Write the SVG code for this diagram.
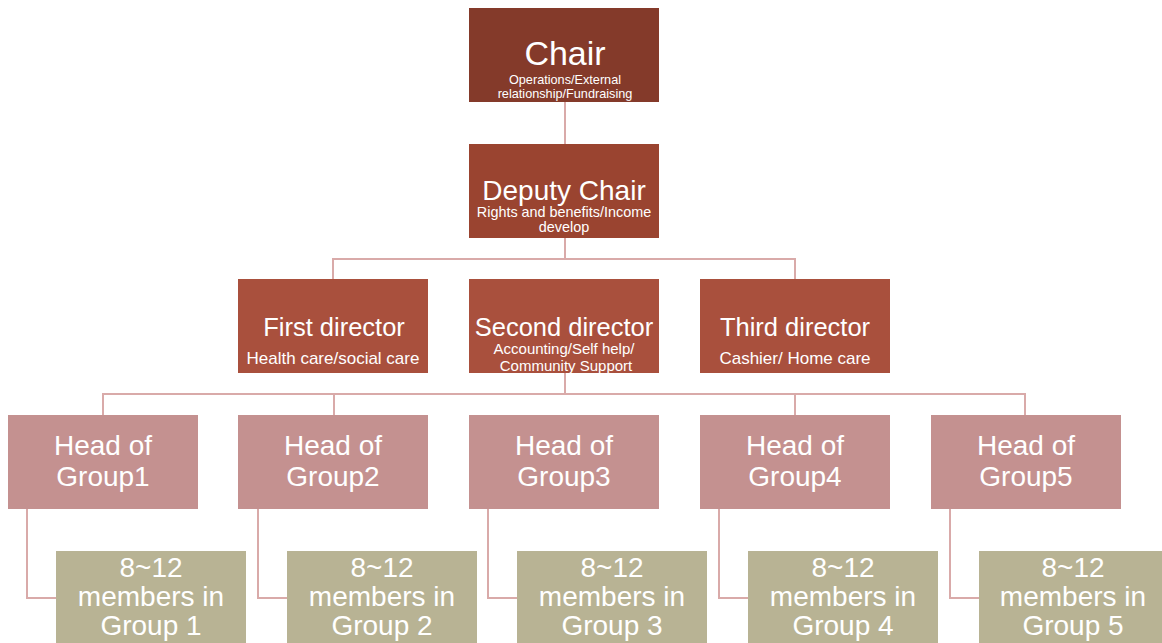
<svg xmlns="http://www.w3.org/2000/svg" width="1162" height="643" viewBox="0 0 1162 643">
  <style>
    text { font-family: "Liberation Sans", Arial, sans-serif; fill: #ffffff; text-anchor: middle; }
    .conn { stroke: #d9aaa9; stroke-width: 2; fill: none; }
    .chair { fill: #843a2a; }
    .deputy { fill: #9a4430; }
    .director { fill: #a9503d; }
    .head { fill: #c49190; }
    .members { fill: #b8b394; }
    .t-chair { font-size: 34px; }
    .t-deputy { font-size: 28px; }
    .t-dir { font-size: 25.5px; }
    .t-sub { font-size: 12.7px; }
    .t-sub14 { font-size: 14.4px; }
    .t-sub16 { font-size: 17px; }
    .t-sub-s { font-size: 15px; }
    .t-head { font-size: 28px; }
  </style>
  <rect width="1162" height="643" fill="#ffffff"/>

  <g id="connectors">
    <path class="conn" d="M565 102 V144"/>
    <path class="conn" d="M565 238 V259 M333 279 V259 H795 V279"/>
    <path class="conn" d="M565 373 V394 M103 415 V394 H1025 V415 M334 394 V415 M795 394 V415"/>
    <path class="conn" d="M27 509 V598 H56"/>
    <path class="conn" d="M258 509 V598 H287"/>
    <path class="conn" d="M488 509 V598 H517"/>
    <path class="conn" d="M719 509 V598 H748"/>
    <path class="conn" d="M950 509 V598 H979"/>
  </g>

  <g id="chair">
    <rect class="chair" x="469" y="8" width="190" height="94"/>
    <text class="t-chair" x="565" y="65">Chair</text>
    <text class="t-sub" x="565" y="84">Operations/External</text>
    <text class="t-sub" x="565" y="98">relationship/Fundraising</text>
  </g>

  <g id="deputy-chair">
    <rect class="deputy" x="469" y="144" width="190" height="94"/>
    <text class="t-deputy" x="564" y="200">Deputy Chair</text>
    <text class="t-sub14" x="564" y="217">Rights and benefits/Income</text>
    <text class="t-sub14" x="564" y="232">develop</text>
  </g>

  <g id="first-director">
    <rect class="director" x="238" y="279" width="190" height="94"/>
    <text class="t-dir" x="334" y="336">First director</text>
    <text class="t-sub16" x="333" y="364">Health care/social care</text>
  </g>

  <g id="second-director">
    <rect class="director" x="469" y="279" width="190" height="94"/>
    <text class="t-dir" x="564" y="336">Second director</text>
    <text class="t-sub-s" x="564" y="354">Accounting/Self help/</text>
    <text class="t-sub-s" x="566" y="371">Community Support</text>
  </g>

  <g id="third-director">
    <rect class="director" x="700" y="279" width="190" height="94"/>
    <text class="t-dir" x="795" y="336">Third director</text>
    <text class="t-sub16" x="795" y="364">Cashier/ Home care</text>
  </g>

  <g id="head-group1">
    <rect class="head" x="8" y="415" width="190" height="94"/>
    <text class="t-head" x="103" y="455">Head of</text>
    <text class="t-head" x="103" y="486">Group1</text>
  </g>
  <g id="head-group2">
    <rect class="head" x="238" y="415" width="190" height="94"/>
    <text class="t-head" x="333" y="455">Head of</text>
    <text class="t-head" x="333" y="486">Group2</text>
  </g>
  <g id="head-group3">
    <rect class="head" x="469" y="415" width="190" height="94"/>
    <text class="t-head" x="564" y="455">Head of</text>
    <text class="t-head" x="564" y="486">Group3</text>
  </g>
  <g id="head-group4">
    <rect class="head" x="700" y="415" width="190" height="94"/>
    <text class="t-head" x="795" y="455">Head of</text>
    <text class="t-head" x="795" y="486">Group4</text>
  </g>
  <g id="head-group5">
    <rect class="head" x="931" y="415" width="190" height="94"/>
    <text class="t-head" x="1026" y="455">Head of</text>
    <text class="t-head" x="1026" y="486">Group5</text>
  </g>

  <g id="members-group1">
    <rect class="members" x="56" y="551" width="190" height="100"/>
    <text class="t-head" x="151" y="577">8~12</text>
    <text class="t-head" x="151" y="606">members in</text>
    <text class="t-head" x="151" y="635">Group 1</text>
  </g>
  <g id="members-group2">
    <rect class="members" x="287" y="551" width="190" height="100"/>
    <text class="t-head" x="382" y="577">8~12</text>
    <text class="t-head" x="382" y="606">members in</text>
    <text class="t-head" x="382" y="635">Group 2</text>
  </g>
  <g id="members-group3">
    <rect class="members" x="517" y="551" width="190" height="100"/>
    <text class="t-head" x="612" y="577">8~12</text>
    <text class="t-head" x="612" y="606">members in</text>
    <text class="t-head" x="612" y="635">Group 3</text>
  </g>
  <g id="members-group4">
    <rect class="members" x="748" y="551" width="190" height="100"/>
    <text class="t-head" x="843" y="577">8~12</text>
    <text class="t-head" x="843" y="606">members in</text>
    <text class="t-head" x="843" y="635">Group 4</text>
  </g>
  <g id="members-group5">
    <rect class="members" x="979" y="551" width="190" height="100"/>
    <text class="t-head" x="1073" y="577">8~12</text>
    <text class="t-head" x="1073" y="606">members in</text>
    <text class="t-head" x="1073" y="635">Group 5</text>
  </g>
</svg>
